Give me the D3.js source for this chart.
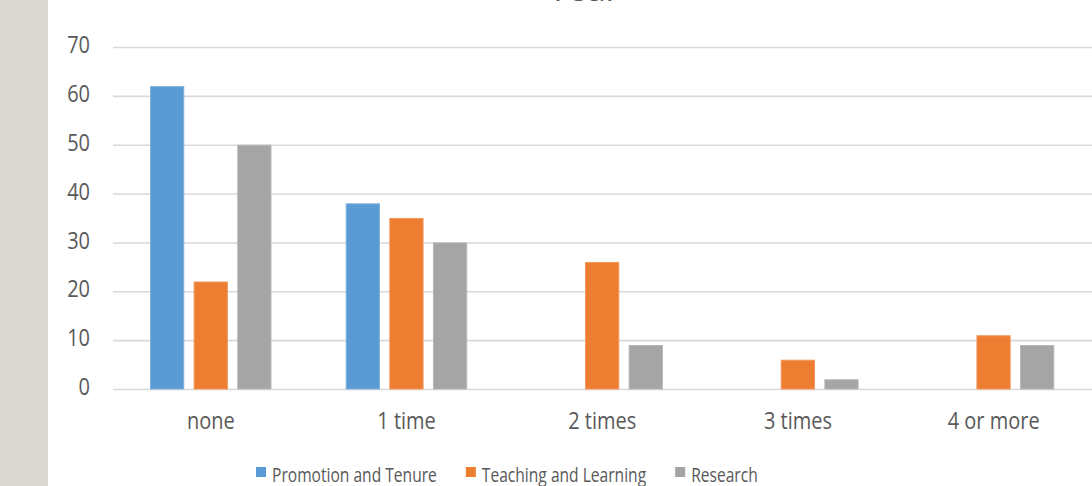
<!DOCTYPE html>
<html><head><meta charset="utf-8">
<script src="https://cdn.jsdelivr.net/npm/d3@7"></script>
<style>
body{margin:0;background:#fff}
svg{display:block}
text{font-family:"Open Sans",sans-serif;fill:#595959}
</style>
</head><body><svg id="c" width="1092" height="486"></svg>
<script>
const categories = ["none", "1 time", "2 times", "3 times", "4 or more"];
const seriesNames = ["Promotion and Tenure", "Teaching and Learning", "Research"];
const promotionTenure = [62, 38, 0, 0, 0];
const teachingLearning = [22, 35, 26, 6, 11];
const research = [50, 30, 9, 2, 9];
const yTicks = [0, 10, 20, 30, 40, 50, 60, 70];
const titleText = "Year";

const colors = ["#5B9BD5", "#ED7D31", "#A5A5A5"];
const strokes = ["#7fb0de", "#f1975a", "#b7b7b7"];
const seriesValues = [promotionTenure, teachingLearning, research];
const data = categories.map((c, i) => ({cat: c, vals: seriesNames.map((s, j) => ({s, j, v: seriesValues[j][i]}))}));

const svg = d3.select("#c");
const SY = 1.22;

svg.append("rect").attr("x", 0).attr("y", 0).attr("width", 48).attr("height", 486).attr("fill", "#dcd9d4");

const x0 = d3.scaleBand().domain(categories).range([113, 1091.5]).padding(0);
const x1 = d3.scaleBand().domain(seriesNames).range([37, 158.5]).paddingInner(0.215).paddingOuter(0);
const y = d3.scaleLinear().domain([0, 70]).range([389, 47]);

function stxt(g, x, yy, str, size, anchor) {
  const t = g.append("g").attr("transform", `translate(${x},${yy}) scale(1,${SY})`)
    .append("text").attr("x", 0).attr("y", 0).attr("font-size", size).attr("text-anchor", anchor || "start").text(str);
  return t;
}

// title (clipped at top)
svg.append("text").attr("x", 584).attr("y", 1).attr("text-anchor", "middle")
  .attr("font-size", 34).text(titleText);

// gridlines
const gy = d3.axisLeft(y).tickValues(yTicks).tickSize(-(1092 - 113)).tickFormat("");
const gg = svg.append("g").attr("transform", "translate(113,0)").call(gy);
gg.select(".domain").remove();
gg.selectAll("line").attr("stroke", "#d9d9d9").attr("stroke-width", 1.6);

// y tick labels
const yl = svg.append("g");
yTicks.forEach(t => stxt(yl, 90, y(t) + 6.2, String(t), 20, "end"));

// bars
const groups = svg.append("g").selectAll("g").data(data).join("g")
  .attr("transform", d => `translate(${x0(d.cat)},0)`);
groups.selectAll("rect").data(d => d.vals.filter(e => e.v > 0)).join("rect")
  .attr("x", e => x1(e.s) + 0.5)
  .attr("y", e => y(e.v) + 0.5)
  .attr("width", x1.bandwidth() - 1)
  .attr("height", e => y(0) - y(e.v) - 0.5)
  .attr("fill", e => colors[e.j])
  .attr("stroke", e => strokes[e.j])
  .attr("stroke-width", 1);

// category labels
const xl = svg.append("g");
categories.forEach(c => stxt(xl, x0(c) + x0.bandwidth() / 2, 429, c, 20, "middle"));

// legend
const lg = svg.append("g");
let lx = 256;
seriesNames.forEach((s, j) => {
  lg.append("rect").attr("x", lx).attr("y", 467).attr("width", 10).attr("height", 10).attr("fill", colors[j]);
  const t = stxt(lg, lx + 16, 481.5, s, 15.6, "start");
  const w = t.node().getComputedTextLength();
  lx = lx + 16 + w + 29;
});
</script></body></html>
